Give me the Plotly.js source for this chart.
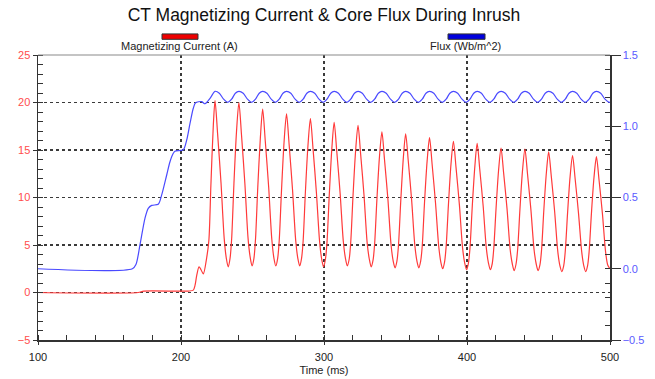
<!DOCTYPE html>
<html>
<head>
<meta charset="utf-8">
<script src="https://cdn.plot.ly/plotly-3.0.1.min.js"></script>
<style>html,body{margin:0;padding:0;background:#fff;}#chart{width:655px;height:379px;}</style>
</head>
<body>
<div id="chart"></div>
<script>
// Magnetizing current (A) vs time (ms)
var timeCurrent = [
  100, 170, 174, 205, 208.6, 209.8, 211, 212.6, 214, 215.6, 218, 219.5, 220.9, 222.6,
  223.8, 225.6, 228.0, 230.2, 231.7, 233.0, 234.3, 235.4, 237.0, 238.8,
  240.5, 242.3, 244.7, 246.9, 248.4, 249.7, 251.0, 252.1, 253.7, 255.5,
  257.1, 258.9, 261.3, 263.5, 265.0, 266.3, 267.6, 268.7, 270.3, 272.1,
  273.8, 275.6, 278.0, 280.2, 281.7, 283.0, 284.3, 285.4, 287.0, 288.8,
  290.5, 292.3, 294.7, 296.9, 298.4, 299.7, 301.0, 302.1, 303.7, 305.5,
  307.1, 308.9, 311.3, 313.5, 315.0, 316.3, 317.6, 318.7, 320.3, 322.1,
  323.8, 325.6, 328.0, 330.2, 331.7, 333.0, 334.3, 335.4, 337.0, 338.8,
  340.5, 342.3, 344.7, 346.9, 348.4, 349.7, 351.0, 352.1, 353.7, 355.5,
  357.1, 358.9, 361.3, 363.5, 365.0, 366.3, 367.6, 368.7, 370.3, 372.1,
  373.8, 375.6, 378.0, 380.2, 381.7, 383.0, 384.3, 385.4, 387.0, 388.8,
  390.5, 392.3, 394.7, 396.9, 398.4, 399.7, 401.0, 402.1, 403.7, 405.5,
  407.1, 408.9, 411.3, 413.5, 415.0, 416.3, 417.6, 418.7, 420.3, 422.1,
  423.8, 425.6, 428.0, 430.2, 431.7, 433.0, 434.3, 435.4, 437.0, 438.8,
  440.5, 442.3, 444.7, 446.9, 448.4, 449.7, 451.0, 452.1, 453.7, 455.5,
  457.1, 458.9, 461.3, 463.5, 465.0, 466.3, 467.6, 468.7, 470.3, 472.1,
  473.8, 475.6, 478.0, 480.2, 481.7, 483.0, 484.3, 485.4, 487.0, 488.8,
  490.5, 492.3, 494.7, 496.9, 498.4, 500.0
];
var current = [
  0, 0, 0.15, 0.15, 0.25, 0.74, 1.8, 2.7, 2.4, 1.96, 3.7, 5.5, 11.3, 17.6,
  20.2, 16.7, 11.5, 5.7, 3.6, 2.7, 3.6, 5.6, 11.4, 16.9,
  20.0, 16.6, 11.4, 5.7, 3.7, 2.8, 3.6, 5.6, 11.1, 16.3,
  19.3, 16.0, 11.1, 5.6, 3.6, 2.8, 3.6, 5.5, 10.8, 15.9,
  18.8, 15.6, 10.8, 5.5, 3.6, 2.8, 3.6, 5.4, 10.6, 15.5,
  18.3, 15.2, 10.5, 5.4, 3.5, 2.7, 3.5, 5.3, 10.3, 15.2,
  17.9, 14.9, 10.4, 5.4, 3.6, 2.8, 3.5, 5.3, 10.2, 14.9,
  17.6, 14.6, 10.2, 5.2, 3.5, 2.7, 3.4, 5.1, 9.8, 14.3,
  16.9, 14.0, 9.8, 5.0, 3.3, 2.6, 3.3, 5.0, 9.7, 14.2,
  16.7, 13.9, 9.7, 5.0, 3.3, 2.6, 3.3, 4.9, 9.5, 13.8,
  16.3, 13.5, 9.4, 4.9, 3.2, 2.5, 3.2, 4.8, 9.2, 13.5,
  15.9, 13.2, 9.2, 4.7, 3.1, 2.4, 3.1, 4.7, 9.1, 13.3,
  15.7, 13.0, 9.1, 4.7, 3.1, 2.4, 3.0, 4.6, 8.8, 12.9,
  15.2, 12.6, 8.8, 4.5, 3.0, 2.3, 3.0, 4.5, 8.7, 12.8,
  15.1, 12.5, 8.7, 4.5, 3.0, 2.3, 2.9, 4.4, 8.6, 12.6,
  14.8, 12.3, 8.5, 4.3, 2.8, 2.2, 2.8, 4.3, 8.3, 12.2,
  14.4, 12.0, 8.3, 4.3, 2.8, 2.2, 2.8, 4.3, 8.3, 12.1,
  14.3, 11.9, 8.3, 4.3, 2.9, 2.5
];

// Core flux (Wb/m^2) vs time (ms)
var timeFlux = [
  100, 166, 168.5, 171.3, 174.8, 177.1, 179.5, 184.1, 186.5, 190, 192.3, 194.6, 195.8, 201.6,
  204, 206.3, 208.6, 210.2, 214.4, 216.8, 220.3,
  223.8, 226.8, 229.8, 232.7, 235.4, 238.0,
  240.5, 243.5, 246.5, 249.4, 252.1, 254.7,
  257.1, 260.1, 263.1, 266.0, 268.7, 271.3,
  273.8, 276.8, 279.8, 282.7, 285.4, 288.0,
  290.5, 293.5, 296.5, 299.4, 302.1, 304.7,
  307.1, 310.1, 313.1, 316.0, 318.7, 321.3,
  323.8, 326.8, 329.8, 332.7, 335.4, 338.0,
  340.5, 343.5, 346.5, 349.4, 352.1, 354.7,
  357.1, 360.1, 363.1, 366.0, 368.7, 371.3,
  373.8, 376.8, 379.8, 382.7, 385.4, 388.0,
  390.5, 393.5, 396.5, 399.4, 402.1, 404.7,
  407.1, 410.1, 413.1, 416.0, 418.7, 421.3,
  423.8, 426.8, 429.8, 432.7, 435.4, 438.0,
  440.5, 443.5, 446.5, 449.4, 452.1, 454.7,
  457.1, 460.1, 463.1, 466.0, 468.7, 471.3,
  473.8, 476.8, 479.8, 482.7, 485.4, 488.0,
  490.5, 493.5, 496.5, 499.4, 500
];
var flux = [
  0, 0, 0.03, 0.167, 0.354, 0.424, 0.445, 0.452, 0.518, 0.658, 0.751, 0.81, 0.825, 0.835,
  0.904, 1.02, 1.126, 1.165, 1.173, 1.158, 1.196,
  1.245, 1.232, 1.19, 1.168, 1.19, 1.232,
  1.245, 1.232, 1.19, 1.168, 1.19, 1.232,
  1.245, 1.232, 1.19, 1.168, 1.19, 1.232,
  1.245, 1.232, 1.19, 1.168, 1.19, 1.232,
  1.245, 1.232, 1.19, 1.168, 1.19, 1.232,
  1.245, 1.232, 1.19, 1.168, 1.19, 1.232,
  1.245, 1.232, 1.19, 1.168, 1.19, 1.232,
  1.245, 1.232, 1.19, 1.168, 1.19, 1.232,
  1.245, 1.232, 1.19, 1.168, 1.19, 1.232,
  1.245, 1.232, 1.19, 1.168, 1.19, 1.232,
  1.245, 1.232, 1.19, 1.168, 1.19, 1.232,
  1.245, 1.232, 1.19, 1.168, 1.19, 1.232,
  1.245, 1.232, 1.19, 1.168, 1.19, 1.232,
  1.245, 1.232, 1.19, 1.168, 1.19, 1.232,
  1.245, 1.232, 1.19, 1.168, 1.19, 1.232,
  1.245, 1.232, 1.19, 1.168, 1.19, 1.232,
  1.245, 1.232, 1.19, 1.168, 1.17
];

var xTicks = [100, 200, 300, 400, 500];
var seriesNames = ['Magnetizing Current (A)', 'Flux (Wb/m^2)'];
var chartTitle = 'CT Magnetizing Current & Core Flux During Inrush';
var xTitle = 'Time (ms)';

var FONT = '"Liberation Sans", Arial, Helvetica, sans-serif';
var AX = '#333333';
var GRID = '#3a3a3a';
var RED = '#ff3a3a';
var BLUE = '#4a4aff';

var traces = [
  {x: timeCurrent, y: current, name: seriesNames[0], type: 'scatter', mode: 'lines',
   line: {color: RED, width: 1.2, shape: 'spline', smoothing: 0.8}, yaxis: 'y', showlegend: false},
  {x: timeFlux, y: flux, name: seriesNames[1], type: 'scatter', mode: 'lines',
   line: {color: BLUE, width: 1.2, shape: 'spline', smoothing: 0.8}, yaxis: 'y2', showlegend: false}
];

var layout = {
  width: 655, height: 379,
  margin: {l: 38, r: 45, t: 55, b: 39, pad: 0},
  paper_bgcolor: '#ffffff', plot_bgcolor: '#ffffff',
  font: {family: FONT, size: 11, color: '#222'},
  showlegend: false,
  title: {text: chartTitle, font: {family: FONT, size: 17.5, color: '#111'},
          x: 0.5, xref: 'paper', xanchor: 'center', y: 0.962, yref: 'container', yanchor: 'middle'},
  xaxis: {
    range: [100, 500], tickmode: 'array', tickvals: xTicks,
    showline: true, linecolor: AX, linewidth: 1.5,
    ticks: 'outside', ticklen: 3, tickcolor: AX, tickwidth: 1, ticklabelstandoff: 3,
    showgrid: true, gridcolor: GRID, griddash: 'dot', gridwidth: 1.3,
    zeroline: false,
    minor: {dtick: 20, ticks: 'inside', ticklen: 5, tickcolor: AX, tickwidth: 1, showgrid: false},
    tickfont: {family: FONT, size: 11, color: '#222'},
    title: {text: xTitle, font: {family: FONT, size: 11, color: '#222'}, standoff: 4}
  },
  yaxis: {
    range: [-5, 25], dtick: 5, tick0: 0,
    showline: true, linecolor: AX, linewidth: 1.5,
    ticks: 'outside', ticklen: 4, tickcolor: AX, tickwidth: 1,
    showgrid: true, gridcolor: GRID, griddash: 'dot', gridwidth: 1.3,
    zeroline: false,
    minor: {dtick: 1, ticks: 'inside', ticklen: 5, tickcolor: AX, tickwidth: 1, showgrid: false},
    tickfont: {family: FONT, size: 11, color: '#ff4d4d'}
  },
  yaxis2: {
    overlaying: 'y', side: 'right', range: [-0.5, 1.5], dtick: 0.5, tick0: 0, tickformat: '.1f',
    showline: true, linecolor: AX, linewidth: 1.5,
    ticks: 'outside', ticklen: 9, tickcolor: AX, tickwidth: 1,
    showgrid: false, zeroline: false,
    minor: {dtick: 0.1, ticks: 'inside', ticklen: 5, tickcolor: AX, tickwidth: 1, showgrid: false},
    tickfont: {family: FONT, size: 11, color: '#5a5aff'}
  },
  shapes: [
    {type: 'line', xref: 'paper', yref: 'paper', x0: 0, x1: 1, y0: 1, y1: 1, line: {color: '#8a8a8a', width: 1.2}},
    {type: 'rect', xref: 'paper', yref: 'paper', x0: 0.2168, x1: 0.2797, y0: 1.055, y1: 1.074,
     fillcolor: '#ee0000', line: {color: '#333', width: 1}},
    {type: 'rect', xref: 'paper', yref: 'paper', x0: 0.7168, x1: 0.7815, y0: 1.055, y1: 1.074,
     fillcolor: '#0000dd', line: {color: '#333', width: 1}}
  ],
  annotations: [
    {text: seriesNames[0], xref: 'paper', yref: 'paper', x: 0.248, y: 1.03, xanchor: 'center', yanchor: 'middle',
     showarrow: false, font: {family: FONT, size: 11, color: '#222'}},
    {text: seriesNames[1], xref: 'paper', yref: 'paper', x: 0.748, y: 1.03, xanchor: 'center', yanchor: 'middle',
     showarrow: false, font: {family: FONT, size: 11, color: '#222'}}
  ]
};

Plotly.newPlot('chart', traces, layout, {displayModeBar: false, staticPlot: true});
</script>
</body>
</html>
